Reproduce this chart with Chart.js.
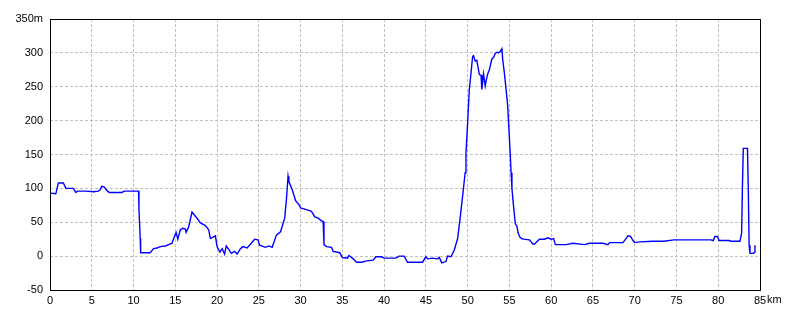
<!DOCTYPE html>
<html>
<head>
<meta charset="utf-8">
<script src="https://cdn.jsdelivr.net/npm/chart.js@4"></script>
<style>
  html, body { margin: 0; padding: 0; background: #fff; }
  #wrap { width: 800px; height: 320px; }
</style>
</head>
<body>
<div id="wrap"><canvas id="profile" width="800" height="320"></canvas></div>
<script>
// --- Data: elevation profile (distance in km, elevation in m) ---
const distanceKm = [
  0, 0.7, 1.0, 1.6, 1.9, 2.8, 3.1, 3.3, 4.3, 5.2, 5.8, 6.0, 6.2, 6.5, 6.8, 7.1, 8.6, 8.9, 10.6, 10.65,
  10.8, 10.85, 12.0, 12.4, 12.8, 13.2, 13.8, 14.2, 14.6, 14.9, 15.1, 15.3, 15.6, 15.9, 16.2, 16.3, 16.6, 17.0, 17.6, 18.0,
  18.6, 19.0, 19.2, 19.8, 20.0, 20.35, 20.6, 20.9, 21.1, 21.4, 21.7, 22.1, 22.4, 22.8, 23.1, 23.6, 24.1, 24.5, 24.9, 25.1,
  25.8, 26.2, 26.6, 27.1, 27.6, 28.1, 28.3, 28.5, 28.6, 29.0, 29.4, 29.8, 30.0, 30.9, 31.3, 31.7, 32.1, 32.5, 32.7, 32.8,
  33.1, 33.7, 33.9, 34.7, 35.0, 35.6, 35.8, 36.3, 36.7, 37.3, 37.9, 38.7, 39.0, 39.7, 40.0, 41.4, 41.8, 42.4, 42.8, 44.6,
  45.0, 45.2, 45.8, 46.4, 46.6, 46.9, 47.4, 47.6, 48.0, 48.4, 48.8, 49.1, 49.5, 49.7, 49.8, 50.0, 50.2, 50.4, 50.6, 50.7,
  50.9, 51.1, 51.4, 51.6, 51.7, 51.9, 52.1, 52.2, 52.4, 52.6, 52.9, 53.1, 53.3, 53.5, 53.7, 53.9, 54.1, 54.2, 54.4, 54.6,
  54.8, 54.9, 55.1, 55.2, 55.3, 55.5, 55.7, 55.9, 56.05, 56.25, 56.45, 56.7, 57.4, 57.8, 58.0, 58.6, 59.2, 59.6, 60.0, 60.3,
  60.5, 61.8, 62.6, 64.0, 64.6, 66.2, 66.8, 67.0, 68.6, 68.9, 69.2, 69.5, 69.8, 70.0, 70.6, 72.2, 73.5, 74.7, 75.7, 79.1,
  79.4, 79.6, 79.9, 80.1, 81.3, 81.5, 82.6, 82.8, 82.9, 83.0, 83.5, 83.6, 83.7, 83.8, 84.2, 84.4, 84.4
];
const elevationM = [
  93, 92, 108, 108, 100, 100, 94, 96, 96, 95, 96, 98, 103, 102, 97, 94, 94, 96, 96, 70,
  26, 5, 5, 11, 12, 14, 15, 17, 19, 29, 35, 25, 39, 41, 40, 35, 43, 65, 56, 49,
  45, 39, 26, 30, 14, 6, 11, 3, 15, 10, 4, 7, 3, 11, 14, 12, 19, 25, 24, 16,
  13, 15, 13, 31, 36, 56, 83, 118, 110, 98, 82, 76, 71, 68, 66, 58, 56, 52, 51, 17,
  14, 13, 7, 5, -2, -3, 1, -4, -9, -9, -7, -6, -1, -1, -3, -3, 0, 0, -9, -9,
  -1, -4, -3, -4, -2, -10, -8, 0, -1, 9, 26, 56, 100, 123, 152, 197, 246, 270, 295, 296,
  288, 289, 268, 267, 246, 269, 251, 258, 269, 275, 291, 293, 299, 301, 300, 302, 306, 290, 270, 246,
  221, 197, 150, 123, 100, 73, 48, 44, 34, 28, 26, 25, 24, 18, 18, 25, 25, 27, 25, 26,
  17, 17, 19, 17, 19, 19, 17, 20, 20, 25, 30, 29, 23, 20, 21, 22, 22, 24, 24, 24,
  23, 29, 29, 23, 23, 22, 22, 34, 105, 159, 159, 98, 16, 4, 4, 6, 16
];

// axis ranges / tick steps
const xRange = [0, 85];
const xStep = 5;
const yRange = [-50, 350];
const yStep = 50;
const xUnit = 'km';
const yUnit = 'm';

const FONT = "'Liberation Sans', Arial, sans-serif";
const FONT_SIZE = 11;

// --- Helpers ---
const points = distanceKm.map((d, i) => ({ x: d, y: elevationM[i] }));

// frame round the plot + unit after the last x tick label
const framePlugin = {
  id: 'frame',
  afterDraw(chart) {
    const { ctx, chartArea } = chart;
    ctx.save();
    ctx.strokeStyle = '#000';
    ctx.lineWidth = 1;
    ctx.strokeRect(Math.round(chartArea.left) + 0.5, Math.round(chartArea.top) + 0.5,
      Math.round(chartArea.right - chartArea.left), Math.round(chartArea.bottom - chartArea.top));

    // "km" trails the last x label, which stays centred on its tick
    const xs = chart.scales.x;
    const px = xs.getPixelForValue(xRange[1]);
    ctx.font = FONT_SIZE + 'px ' + FONT;
    ctx.fillStyle = '#000';
    ctx.textBaseline = 'middle';
    ctx.textAlign = 'left';
    const w = ctx.measureText(String(xRange[1])).width;
    ctx.fillText(xUnit, px + w / 2 + 1, chartArea.bottom + 10);
    ctx.restore();
  }
};

const ctx = document.getElementById('profile').getContext('2d');
new Chart(ctx, {
  type: 'line',
  data: {
    datasets: [{
      data: points,
      borderColor: '#0000ff',
      borderWidth: 1.4,
      pointRadius: 0,
      tension: 0,
      fill: false
    }]
  },
  options: {
    responsive: false,
    animation: false,
    events: [],
    layout: { padding: { top: 19, right: 40, left: 0, bottom: 0 } },
    plugins: { legend: { display: false }, tooltip: { enabled: false } },
    scales: {
      x: {
        type: 'linear',
        min: xRange[0],
        max: xRange[1],
        afterFit(scale) { scale.height = 30; },
        ticks: {
          stepSize: xStep,
          maxRotation: 0,
          padding: 4,
          color: '#000',
          font: { family: FONT, size: FONT_SIZE },
          callback: (v) => v
        },
        grid: { color: '#c0c0c0', lineWidth: 1, drawTicks: false },
        border: { display: false, dash: [3, 2] }
      },
      y: {
        min: yRange[0],
        max: yRange[1],
        afterFit(scale) { scale.width = 50; },
        ticks: {
          stepSize: yStep,
          padding: 7,
          color: '#000',
          font: { family: FONT, size: FONT_SIZE },
          callback: (v) => (v === yRange[1] ? v + yUnit : v)
        },
        grid: { color: '#c0c0c0', lineWidth: 1, drawTicks: false },
        border: { display: false, dash: [3, 2] }
      }
    }
  },
  plugins: [framePlugin]
});
</script>
</body>
</html>
